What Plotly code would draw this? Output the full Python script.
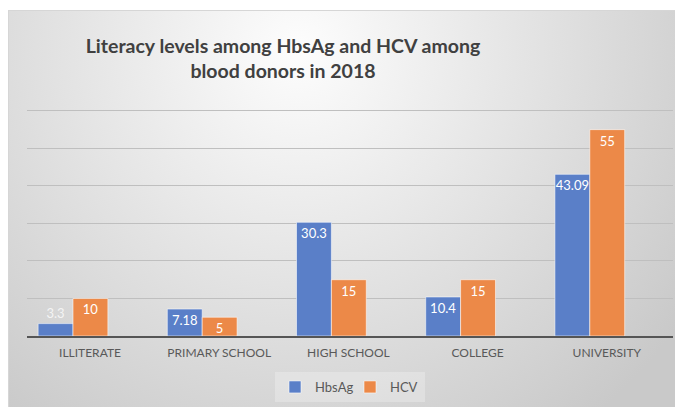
import base64
import plotly.graph_objects as go

categories = ["ILLITERATE", "PRIMARY SCHOOL", "HIGH SCHOOL", "COLLEGE", "UNIVERSITY"]
hbsag = [3.3, 7.18, 30.3, 10.4, 43.09]
hcv = [10, 5, 15, 15, 55]
series_names = ["HbsAg", "HCV"]
colors = ["#5A7FC8", "#EC8948"]

# page body has an 8px margin, so the figure itself is 675x399
W, H = 675, 399
ml, mr, mt, mb = 19, 10, 101, 71
pw, ph = W - ml - mr, H - mt - mb
ymax = 60.5

# background panel with radial gradient (chart area look)
box_x0, box_y0 = 0, 2
bw, bh = W - box_x0, H - box_y0
svg = f'''<svg xmlns="http://www.w3.org/2000/svg" width="{bw}" height="{bh}" viewBox="0 0 {bw} {bh}" preserveAspectRatio="none">
<defs><radialGradient id="g" gradientUnits="userSpaceOnUse" cx="290" cy="40" r="470">
<stop offset="0" stop-color="#fdfdfd"/><stop offset="1" stop-color="#c9c9c9"/></radialGradient></defs>
<rect x="0" y="0" width="{bw}" height="{bh}" fill="url(#g)"/>
<rect x="0.5" y="0.5" width="{bw}" height="{bh}" fill="none" stroke="#d6d6d6" stroke-width="1"/>
</svg>'''
src = "data:image/svg+xml;base64," + base64.b64encode(svg.encode()).decode()

def fmt(v):
    return str(int(v)) if float(v).is_integer() else str(v)

fig = go.Figure()
for name, vals, col in zip(series_names, [hbsag, hcv], colors):
    fig.add_trace(go.Bar(
        name=name, x=categories, y=vals,
        marker=dict(color=col, line=dict(color="rgba(255,255,255,0.55)", width=1)),
        text=[fmt(v) for v in vals],
        textposition=["outside" if v < 4 else "inside" for v in vals],
        insidetextanchor="end", textangle=0, cliponaxis=False,
        insidetextfont=dict(family="Lato", size=13, color="white"),
        outsidetextfont=dict(family="Lato", size=13, color="#f4f4f4"),
    ))

fig.update_layout(
    width=W, height=H, autosize=False,
    margin=dict(l=ml, r=mr, t=mt, b=mb, pad=0, autoexpand=False),
    paper_bgcolor="white", plot_bgcolor="rgba(0,0,0,0)",
    barmode="group", bargap=0.46, bargroupgap=0,
    uniformtext=dict(minsize=13, mode="show"),
    title=dict(
        text="Literacy levels among HbsAg and HCV among<br>blood donors in 2018",
        x=275 / W, xanchor="center", xref="container",
        y=1 - 45 / H, yanchor="top", yref="container",
        font=dict(family="Lato", size=19.5, color="#404040", weight="bold"),
    ),
    xaxis=dict(
        range=[-0.356, 4.644], showgrid=False, showline=True,
        linecolor="#555555", linewidth=2, ticks="", automargin=False,
        tickfont=dict(family="Lato", size=12, color="#595959"),
        ticklabelshift=17, ticklabelstandoff=5, fixedrange=True,
    ),
    yaxis=dict(
        range=[0, ymax], dtick=10, showgrid=True, gridcolor="#bfbfbf", gridwidth=1,
        showticklabels=False, zeroline=False, showline=False, ticks="",
        automargin=False,
    ),
    legend=dict(
        orientation="h", x=(342 - ml) / pw, xanchor="center",
        y=(mt + ph - 364) / ph, yanchor="top",
        bgcolor="rgba(255,255,255,0.25)",
        font=dict(family="Lato", size=13, color="#595959"),
        itemwidth=30, entrywidth=30, entrywidthmode="pixels",
    ),
    images=[dict(
        source=src, xref="paper", yref="paper",
        x=(box_x0 - ml) / pw, y=(mt + ph - box_y0) / ph,
        sizex=bw / pw, sizey=bh / ph, xanchor="left", yanchor="top",
        sizing="stretch", layer="below",
    )],
    showlegend=True,
)

fig.write_html("out.html")
